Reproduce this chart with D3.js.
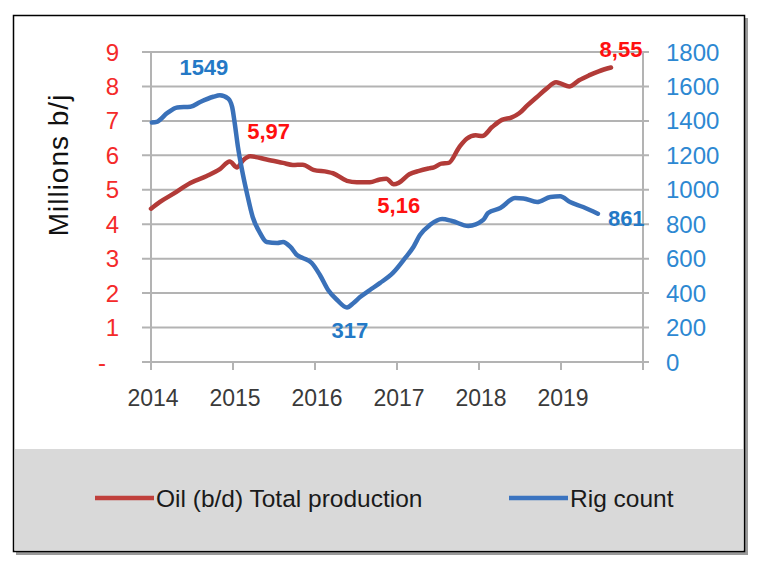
<!DOCTYPE html>
<html><head><meta charset="utf-8">
<script src="https://cdn.jsdelivr.net/npm/d3@7"></script>
<style>body{margin:0;background:#fff}svg{display:block}text{font-family:"Liberation Sans",Arial,sans-serif}</style>
</head><body><svg id="c" width="759" height="568"></svg>
<script>
// ---- data ----
const oilYears = [2014.00,2014.11,2014.27,2014.48,2014.68,2014.84,2014.96,2015.05,2015.12,2015.21,2015.41,2015.61,2015.73,2015.85,2015.98,2016.15,2016.22,2016.39,2016.51,2016.67,2016.79,2016.87,2016.96,2017.02,2017.15,2017.27,2017.39,2017.45,2017.54,2017.63,2017.76,2017.85,2017.96,2018.04,2018.16,2018.28,2018.40,2018.49,2018.59,2018.70,2018.82,2018.94,2019.00,2019.10,2019.22,2019.34,2019.46,2019.61];
const oilValues = [4.45,4.65,4.88,5.2,5.4,5.6,5.82,5.65,5.85,5.97,5.88,5.78,5.72,5.73,5.58,5.52,5.48,5.26,5.22,5.22,5.3,5.32,5.16,5.2,5.45,5.55,5.62,5.65,5.76,5.78,6.24,6.48,6.58,6.56,6.82,7.03,7.1,7.22,7.45,7.68,7.93,8.12,8.08,8.0,8.18,8.32,8.44,8.55];
const rigYears = [2014.01,2014.07,2014.20,2014.32,2014.48,2014.60,2014.76,2014.84,2014.94,2014.99,2015.02,2015.06,2015.11,2015.17,2015.24,2015.33,2015.41,2015.54,2015.61,2015.70,2015.78,2015.85,2015.96,2016.06,2016.16,2016.27,2016.39,2016.47,2016.55,2016.67,2016.79,2016.95,2017.10,2017.20,2017.28,2017.40,2017.55,2017.67,2017.87,2018.05,2018.11,2018.26,2018.44,2018.54,2018.71,2018.87,2018.99,2019.11,2019.27,2019.45];
const rigValues = [1390,1394,1446,1478,1482,1510,1540,1549,1530,1480,1390,1250,1115,980,842,749,697,691,697,668,621,604,575,505,418,360,317,343,377,418,458,517,604,668,737,795,830,819,790,824,865,894,952,950,929,958,962,929,900,861];
const xTicks = [2014,2015,2016,2017,2018,2019];
const leftTicks = [0,1,2,3,4,5,6,7,8,9];
const rightTicks = [0,200,400,600,800,1000,1200,1400,1600,1800];
const oilLabels = [{i:9,t:"5,97",dx:-3,dy:-17,a:"start"},{i:22,t:"5,16",dx:5,dy:29,a:"middle"},{i:47,t:"8,55",dx:10,dy:-11,a:"middle"}];
const rigLabels = [{i:7,t:"1549",dx:-16,dy:-20,a:"middle"},{i:26,t:"317",dx:3,dy:31,a:"middle"},{i:49,t:"861",dx:10,dy:12,a:"start"}];
const seriesNames = ["Oil (b/d) Total production","Rig count"];

// ---- chart ----
const svg = d3.select("#c");
const red = "#b23b38", blue = "#3a71b9", redT = "#f42a2a", blueT = "#2d88d2";
const x = d3.scaleLinear().domain([2014,2020]).range([151,643]);
const yL = d3.scaleLinear().domain([0,9]).range([362,52]);
const yR = d3.scaleLinear().domain([0,1800]).range([362,52]);

// frame + shadow
svg.append("rect").attr("x",16).attr("y",18).attr("width",732).attr("height",537).attr("fill","#9a9a9a");
svg.append("rect").attr("x",13.5).attr("y",15.5).attr("width",731).attr("height",536).attr("fill","#fff").attr("stroke","#000").attr("stroke-width",1.5);
svg.append("rect").attr("x",15).attr("y",449).attr("width",728).attr("height",101).attr("fill","#d9d9d9");

const grid = "#b3b3b3";
// gridlines
svg.append("g").selectAll("line").data(leftTicks).join("line")
  .attr("x1",142).attr("x2",649).attr("y1",d=>yL(d)).attr("y2",d=>yL(d))
  .attr("stroke",grid).attr("stroke-width",2);
// vertical axis lines
[x(2014), x(2020)].forEach(px=>svg.append("line").attr("x1",px).attr("x2",px).attr("y1",yL(9)).attr("y2",370).attr("stroke",grid).attr("stroke-width",2));
// x ticks
svg.append("g").selectAll("line").data(xTicks).join("line")
  .attr("x1",d=>x(d)).attr("x2",d=>x(d)).attr("y1",362).attr("y2",370).attr("stroke",grid).attr("stroke-width",2);

// tick labels
svg.append("g").selectAll("text").data(leftTicks).join("text")
  .attr("x",d=>d===0?106:119).attr("y",d=>yL(d)+8.5).attr("text-anchor","end")
  .attr("font-size",24).attr("fill",redT).text(d=>d===0?"-":d);
svg.append("g").selectAll("text").data(rightTicks).join("text")
  .attr("x",666).attr("y",d=>yR(d)+8.5).attr("text-anchor","start")
  .attr("font-size",24).attr("fill",blueT).text(d=>d);
svg.append("g").selectAll("text").data(xTicks).join("text")
  .attr("x",d=>x(d)+2).attr("y",406).attr("text-anchor","middle")
  .attr("font-size",23).attr("fill","#3a3a3a").text(d=>d);

// axis title
svg.append("text").attr("transform","translate(68,165) rotate(-90)").attr("text-anchor","middle")
  .attr("font-size",28).attr("letter-spacing",1).attr("fill","#111").text("Millions b/j");

// lines
const oilData = oilYears.map((t,i)=>[t,oilValues[i]]);
const rigData = rigYears.map((t,i)=>[t,rigValues[i]]);
svg.append("path").datum(oilData).attr("fill","none").attr("stroke",red).attr("stroke-width",4.5).attr("stroke-linejoin","round").attr("stroke-linecap","round")
  .attr("d",d3.line().x(d=>x(d[0])).y(d=>yL(d[1])).curve(d3.curveMonotoneX));
svg.append("path").datum(rigData).attr("fill","none").attr("stroke",blue).attr("stroke-width",4.5).attr("stroke-linejoin","round").attr("stroke-linecap","round")
  .attr("d",d3.line().x(d=>x(d[0])).y(d=>yR(d[1])).curve(d3.curveMonotoneX));

// data labels
svg.append("g").selectAll("text").data(oilLabels).join("text")
  .attr("x",d=>x(oilYears[d.i])+d.dx).attr("y",d=>yL(oilValues[d.i])+d.dy).attr("text-anchor",d=>d.a)
  .attr("font-size",22).attr("font-weight","bold").attr("fill","#ff1010").text(d=>d.t);
svg.append("g").selectAll("text").data(rigLabels).join("text")
  .attr("x",d=>x(rigYears[d.i])+d.dx).attr("y",d=>yR(rigValues[d.i])+d.dy).attr("text-anchor",d=>d.a)
  .attr("font-size",22).attr("font-weight","bold").attr("fill","#2479c6").text(d=>d.t);

// legend
const lg = svg.append("g");
const legX = [95, 509];
seriesNames.forEach((n,i)=>{
  lg.append("line").attr("x1",legX[i]).attr("x2",legX[i]+59).attr("y1",498).attr("y2",498)
    .attr("stroke",i===0?"#c0403c":"#3b74c0").attr("stroke-width",4.5);
  lg.append("text").attr("x",legX[i]+61).attr("y",507).attr("font-size",24.5).attr("fill","#1a1a1a").text(n);
});
</script></body></html>
